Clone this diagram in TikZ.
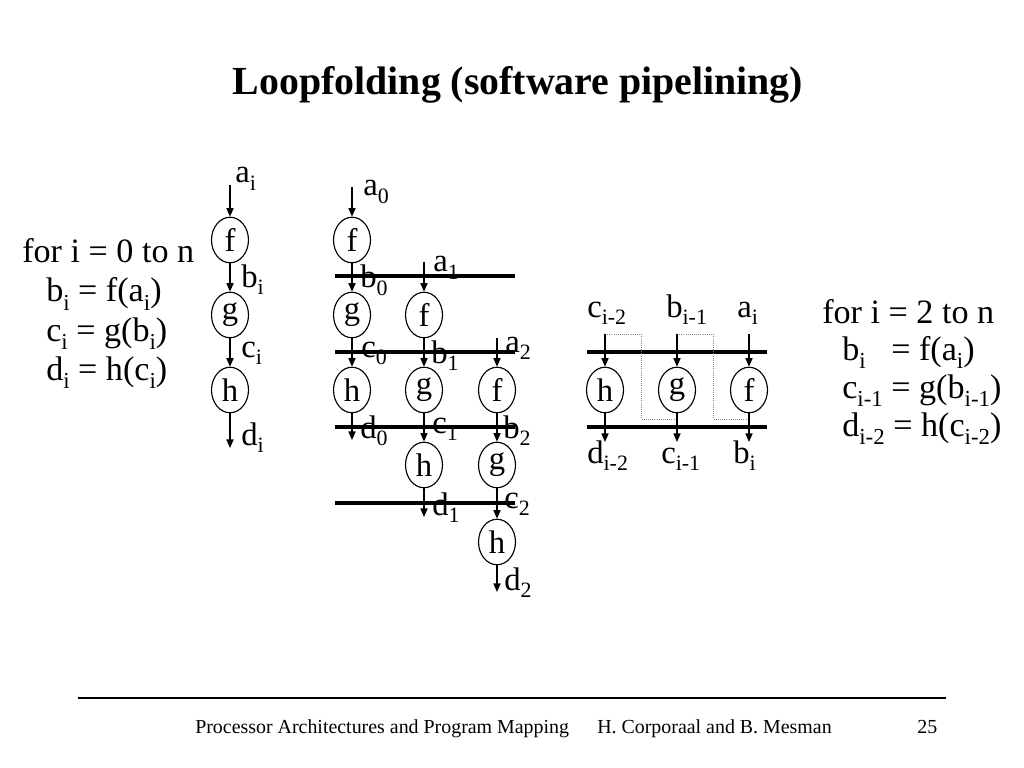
\documentclass[tikz,border=0pt]{standalone}
\usepackage{fontspec}
\setmainfont{Liberation Serif}
\usetikzlibrary{shapes.geometric,arrows.meta}
\newcommand\sbs[1]{\raisebox{-0.24em}{\scalebox{0.67}{#1}}}
\begin{document}
\begin{tikzpicture}[x=0.703125pt,y=-0.703125pt,
  op/.style={ellipse,draw,line width=0.8pt,minimum width=26pt,minimum height=32pt,inner sep=0pt,font=\fontsize{23}{23}\selectfont},
  lbl/.style={anchor=base west,inner sep=0pt,font=\fontsize{23}{23}\selectfont},
  txt/.style={anchor=base west,inner sep=0pt,font=\fontsize{24}{24}\selectfont},
  foot/.style={anchor=base west,inner sep=0pt,font=\fontsize{14}{14}\selectfont},
  flow/.style={line width=0.9pt,-{Triangle[length=6pt,width=5pt]}},
  stage/.style={line width=2.6pt},
  fold/.style={densely dotted,line width=0.5pt,gray}]
\useasboundingbox (0,0) rectangle (1024,768);

% title
\node[anchor=base,inner sep=0pt,font=\fontsize{28}{28}\selectfont\bfseries] (title) at (518,95) {Loopfolding (software pipelining)};

% left code
\node[txt] (l1) at (22,263) {for i = 0 to n};
\node[txt] (l2) at (46,302) {b\sbs{i} = f(a\sbs{i})};
\node[txt] (l3) at (46,341) {c\sbs{i} = g(b\sbs{i})};
\node[txt] (l4) at (46,380) {d\sbs{i} = h(c\sbs{i})};

% column 1
\node[op] (f) at (230,240) {f};
\node[op] (g) at (230,315) {g};
\node[op] (h) at (230,390) {h};
\coordinate (ain) at (230,185);
\coordinate (dout) at (230,448);
\draw[flow] (ain) -- (f);
\draw[flow] (f) -- (g);
\draw[flow] (g) -- (h);
\draw[flow] (h) -- (dout);
\node[lbl] at (235,183) {a\sbs{i}};
\node[lbl] at (241,287) {b\sbs{i}};
\node[lbl] at (241,357) {c\sbs{i}};
\node[lbl] at (241,445) {d\sbs{i}};

% unrolled schedule
\foreach \y in {276,352,427,503} \draw[stage] (335,\y) -- (515,\y);
\node[op] (f0) at (352,240) {f};
\node[op] (g0) at (352,315) {g};
\node[op] (h0) at (352,390) {h};
\node[op] (f1) at (424,315) {f};
\node[op] (g1) at (424,390) {g};
\node[op] (h1) at (424,465) {h};
\node[op] (f2) at (497,390) {f};
\node[op] (g2) at (497,465) {g};
\node[op] (h2) at (497,542) {h};
\coordinate (a0in) at (352,187);
\coordinate (a1in) at (424,262);
\coordinate (a2in) at (497,338);
\coordinate (d0out) at (352,440);
\coordinate (d1out) at (424,517);
\coordinate (d2out) at (497,592);
\draw[flow] (a0in) -- (f0);
\draw[flow] (f0) -- (g0);
\draw[flow] (g0) -- (h0);
\draw[flow] (h0) -- (d0out);
\draw[flow] (a1in) -- (f1);
\draw[flow] (f1) -- (g1);
\draw[flow] (g1) -- (h1);
\draw[flow] (h1) -- (d1out);
\draw[flow] (a2in) -- (f2);
\draw[flow] (f2) -- (g2);
\draw[flow] (g2) -- (h2);
\draw[flow] (h2) -- (d2out);
\node[lbl] at (363,196) {a\sbs{0}};
\node[lbl] at (360,288) {b\sbs{0}};
\node[lbl] at (433,272) {a\sbs{1}};
\node[lbl] at (361,357) {c\sbs{0}};
\node[lbl] at (431,363) {b\sbs{1}};
\node[lbl] at (505,352) {a\sbs{2}};
\node[lbl] at (360,438) {d\sbs{0}};
\node[lbl] at (432,433) {c\sbs{1}};
\node[lbl] at (503,438) {b\sbs{2}};
\node[lbl] at (432,515) {d\sbs{1}};
\node[lbl] at (504,508) {c\sbs{2}};
\node[lbl] at (504,590) {d\sbs{2}};

% folded loop
\draw[stage] (587,352) -- (767,352);
\draw[stage] (587,427) -- (767,427);
\node[op] (hR) at (605,390) {h};
\node[op] (gR) at (677,390) {g};
\node[op] (fR) at (749,390) {f};
\coordinate (cin) at (605,334);
\coordinate (bin) at (677,334);
\coordinate (ain2) at (749,334);
\coordinate (dout2) at (605,442);
\coordinate (cout) at (677,442);
\coordinate (bout) at (749,442);
\draw[fold] (cin) -- (641,334) -- (641,419) -- (677,419);
\draw[fold] (bin) -- (713,334) -- (713,419) -- (749,419);
\draw[flow] (cin) -- (hR);
\draw[flow] (bin) -- (gR);
\draw[flow] (ain2) -- (fR);
\draw[flow] (hR) -- (dout2);
\draw[flow] (gR) -- (cout);
\draw[flow] (fR) -- (bout);
\node[lbl] at (587,317) {c\sbs{i-2}};
\node[lbl] at (666,317) {b\sbs{i-1}};
\node[lbl] at (737,317) {a\sbs{i}};
\node[lbl] at (587,463) {d\sbs{i-2}};
\node[lbl] at (661,463) {c\sbs{i-1}};
\node[lbl] at (733,463) {b\sbs{i}};

% right code
\node[txt] (r1) at (822,323) {for i = 2 to n};
\node[txt] (r2) at (842,360) {b\sbs{i}\ \ \ = f(a\sbs{i})};
\node[txt] (r3) at (842,398) {c\sbs{i-1} = g(b\sbs{i-1})};
\node[txt] (r4) at (842,436) {d\sbs{i-2} = h(c\sbs{i-2})};

% footer
\coordinate (fl) at (78,698);
\coordinate (fr) at (946,698);
\draw[line width=0.9pt] (fl) -- (fr);
\node[foot] (ft1) at (195,733) {Processor Architectures and Program Mapping};
\node[foot] (ft2) at (597,733) {H. Corporaal and B. Mesman};
\node[foot] (ft3) at (917,733) {25};
\end{tikzpicture}
\end{document}
